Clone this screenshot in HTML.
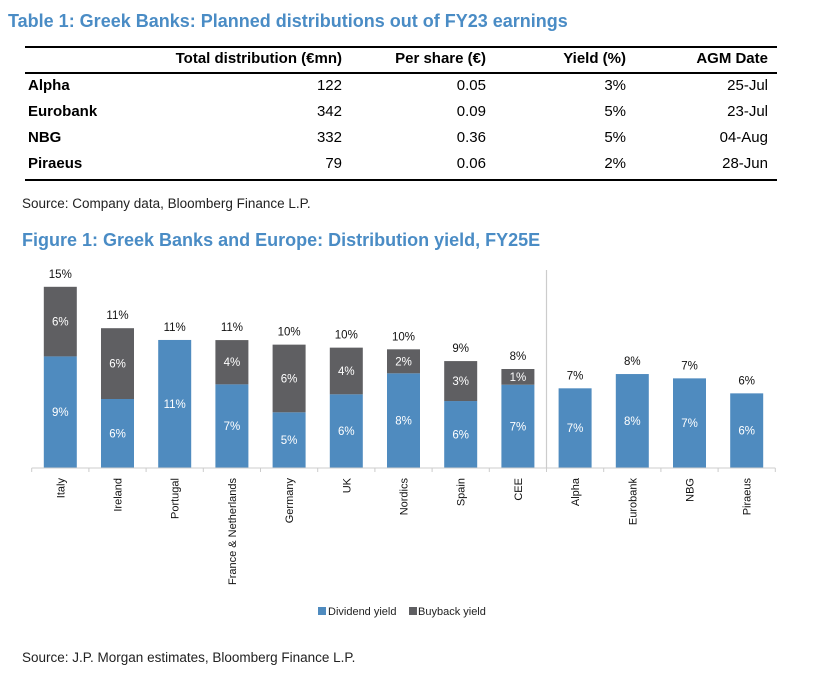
<!DOCTYPE html>
<html><head><meta charset="utf-8"><style>
body{margin:0;background:#fff;width:833px;height:698px;overflow:hidden;font-family:"Liberation Sans",Arial,sans-serif;position:relative}
.t{position:absolute;white-space:nowrap}
.title{color:#4a8cc5;font-weight:bold;font-size:18px}
.src{font-size:13.5px;color:#222}
.rule{position:absolute;left:25px;width:752px;background:#000}
.cell{position:absolute;font-size:15px;color:#000;white-space:nowrap}
</style></head><body>
<div class="t title" style="left:8px;top:11px">Table 1: Greek Banks: Planned distributions out of FY23 earnings</div>
<div class="rule" style="top:46px;height:2px"></div>
<div class="rule" style="top:72px;height:2px"></div>
<div class="rule" style="top:179px;height:2px"></div>
<div id="tbl"></div>
<div class="t src" style="left:22px;top:196px">Source: Company data, Bloomberg Finance L.P.</div>
<div class="t title" style="left:22px;top:230px">Figure 1: Greek Banks and Europe: Distribution yield, FY25E</div>
<svg id="chart" width="833" height="698" style="position:absolute;left:0;top:0" font-family="Liberation Sans, Arial, sans-serif"></svg>
<div class="t src" style="left:22px;top:650px">Source: J.P. Morgan estimates, Bloomberg Finance L.P.</div>
<script>
const headers=["Total distribution (€mn)","Per share (€)","Yield (%)","AGM Date"];
const banks=["Alpha","Eurobank","NBG","Piraeus"];
const totals=["122","342","332","79"];
const perShare=["0.05","0.09","0.36","0.06"];
const yields=["3%","5%","5%","2%"];
const agm=["25-Jul","23-Jul","04-Aug","28-Jun"];
const categories=["Italy","Ireland","Portugal","France & Netherlands","Germany","UK","Nordics","Spain","CEE","Alpha","Eurobank","NBG","Piraeus"];
const dividend=[9.3,5.75,10.67,6.97,4.64,6.14,7.89,5.58,6.94,6.64,7.83,7.47,6.22];
const buyback=[5.8,5.9,0,3.69,5.64,3.89,2.0,3.33,1.31,0,0,0,0];
const dividendLabels=["9%","6%","11%","7%","5%","6%","8%","6%","7%","7%","8%","7%","6%"];
const buybackLabels=["6%","6%","","4%","6%","4%","2%","3%","1%","","","",""];
const totalLabels=["15%","11%","11%","11%","10%","10%","10%","9%","8%","7%","8%","7%","6%"];

const tbl=document.getElementById('tbl');
const colRight=[342,486,626,768];
function cell(txt,style,name,bold){
  const d=document.createElement('div');d.className='cell';d.textContent=txt;
  d.setAttribute('style',style+(bold?';font-weight:bold':''));
  
  
  tbl.appendChild(d);
}
headers.forEach((h,i)=>cell(h,'right:'+(833-colRight[i])+'px;top:50px','header-cell',true));
const cols=[totals,perShare,yields,agm];
const rowY=[77,103,129,155];
banks.forEach((b,r)=>{
  cell(b,'left:28px;top:'+rowY[r]+'px','row-label',true);
  cols.forEach((c,i)=>cell(c[r],'right:'+(833-colRight[i])+'px;top:'+rowY[r]+'px','table-cell',false));
});

const svg=document.getElementById('chart');const NS='http://www.w3.org/2000/svg';
function el(t,a){const e=document.createElementNS(NS,t);for(const k in a)e.setAttribute(k,a[k]);svg.appendChild(e);return e;}
const x0=31.7,step=57.2,bw=33,base=468,ppu=12;
const xPos=i=>x0+i*step+(step-bw)/2;
const yPos=v=>base-v*ppu;
const blue='#4f8bbf',gray='#5f5f62';
categories.forEach((c,i)=>{
  const x=xPos(i),d=dividend[i],b=buyback[i];
  let r=el('rect',{x:x,y:yPos(d),width:bw,height:d*ppu,fill:blue});
  
  
  let t=el('text',{x:x+bw/2,y:(yPos(d)+base)/2+4,'text-anchor':'middle','font-size':11.5,fill:'#fff'});t.textContent=dividendLabels[i];
  
  
  if(b>0){
    r=el('rect',{x:x,y:yPos(d+b),width:bw,height:b*ppu,fill:gray});
    
    
    t=el('text',{x:x+bw/2,y:(yPos(d+b)+yPos(d))/2+4,'text-anchor':'middle','font-size':11.5,fill:'#fff'});t.textContent=buybackLabels[i];
    
    
  }
  t=el('text',{x:x+bw/2,y:yPos(d+b)-9,'text-anchor':'middle','font-size':11.5,fill:'#111'});t.textContent=totalLabels[i];
  
  
  const cx=x+bw/2+4;
  t=el('text',{x:cx,y:478,'text-anchor':'end','font-size':11,fill:'#111',transform:'rotate(-90 '+cx+' 478)'});t.textContent=c;
  
  
});
let ax=el('line',{x1:x0,x2:x0+categories.length*step,y1:base,y2:base,stroke:'#ccc','stroke-width':1});


for(let i=0;i<=categories.length;i++){const tk=el('line',{x1:x0+i*step,x2:x0+i*step,y1:base,y2:base+4,stroke:'#ccc'});
  
  }
const dv=el('line',{x1:x0+9*step,x2:x0+9*step,y1:270,y2:base,stroke:'#ccc','stroke-width':1.2});


let lg=el('rect',{x:318,y:607,width:8,height:8,fill:blue});


lg=el('text',{x:328,y:615,'font-size':11,fill:'#222'});lg.textContent='Dividend yield';


lg=el('rect',{x:409,y:607,width:8,height:8,fill:gray});


lg=el('text',{x:418,y:615,'font-size':11,fill:'#222'});lg.textContent='Buyback yield';


</script>
</body></html>
